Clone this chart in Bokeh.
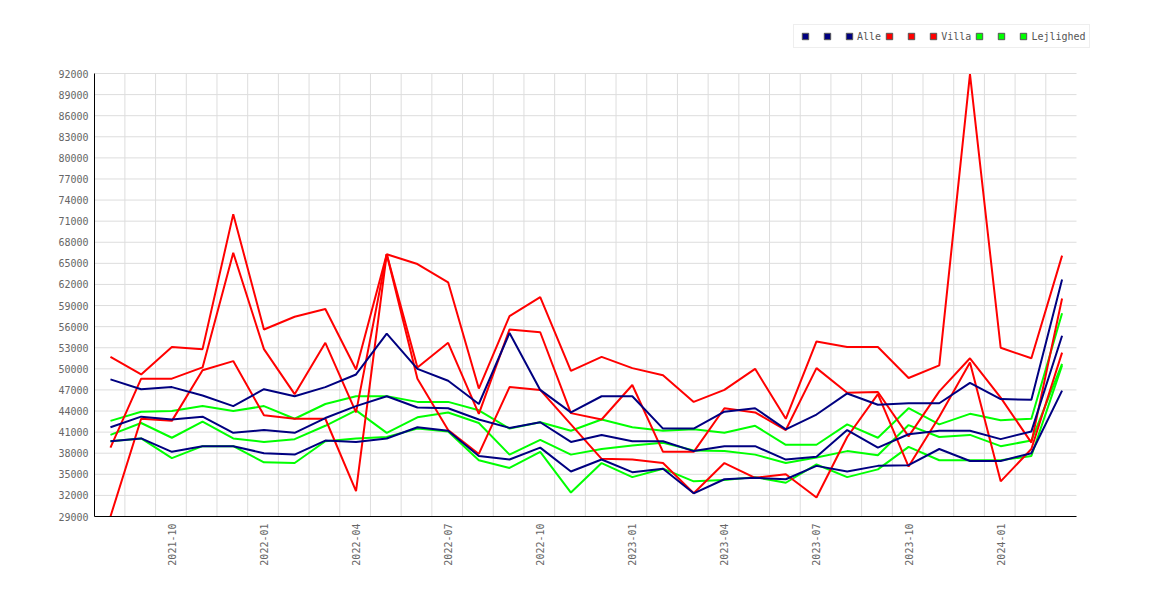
import math
from bokeh.plotting import figure
from bokeh.models import FixedTicker, Legend, LegendItem, PrintfTickFormatter, Range1d
from bokeh.embed import file_html
from bokeh.resources import INLINE

months = ["2021-08", "2021-09", "2021-10", "2021-11", "2021-12", "2022-01", "2022-02", "2022-03",
          "2022-04", "2022-05", "2022-06", "2022-07", "2022-08", "2022-09", "2022-10", "2022-11",
          "2022-12", "2023-01", "2023-02", "2023-03", "2023-04", "2023-05", "2023-06", "2023-07",
          "2023-08", "2023-09", "2023-10", "2023-11", "2023-12", "2024-01", "2024-02", "2024-03"]

alle_hi = [48500, 47100, 47400, 46200, 44700, 47100, 46100, 47400, 49200, 55000, 50000, 48300,
           45000, 55100, 47000, 43800, 46100, 46100, 41500, 41500, 43900, 44400, 41400, 43500,
           46500, 44900, 45100, 45100, 48000, 45700, 45600, 62700]
alle_mid = [41700, 43200, 42800, 43200, 40900, 41300, 40900, 43000, 44700, 46100, 44500, 44400,
            42800, 41600, 42400, 39600, 40600, 39700, 39700, 38300, 39000, 39000, 37100, 37500,
            41300, 38800, 40700, 41200, 41200, 40000, 41100, 54700]
alle_lo = [39700, 40100, 38200, 39000, 39000, 38000, 37800, 39800, 39600, 40100, 41700, 41200,
           37600, 37100, 38800, 35400, 37100, 35300, 35800, 32300, 34300, 34500, 34300, 36200,
           35400, 36200, 36300, 38600, 36900, 36900, 38000, 46900]

villa_hi = [51700, 49200, 53100, 52800, 72000, 55600, 57400, 58500, 49900, 66300, 64900, 62300,
            47200, 57500, 60200, 49700, 51700, 50100, 49100, 45300, 47000, 50000, 42900, 53900,
            53100, 53100, 48700, 50500, 91900, 53000, 51500, 66100]
villa_mid = [38800, 48600, 48600, 50200, 66500, 52800, 46400, 53700, 43800, 66300, 50200, 53700,
             43600, 55600, 55200, 43700, 42800, 47700, 38200, 38200, 44400, 43800, 41300, 50100,
             46600, 46700, 40400, 46800, 51500, 45900, 39500, 60000]
villa_lo = [29000, 42900, 42600, 49800, 51100, 43400, 42900, 42900, 32600, 66300, 48600, 41300,
            37900, 47400, 47000, 42100, 37200, 37100, 36600, 32300, 36600, 34500, 35000, 31700,
            40300, 46400, 36100, 43200, 50900, 34000, 38600, 52300]

lejl_hi = [42600, 43900, 44000, 44700, 44000, 44700, 42900, 45000, 46100, 46100, 45300, 45300,
           44100, 41500, 42400, 41200, 42800, 41700, 41200, 41400, 40900, 41900, 39200, 39200,
           42100, 40200, 44400, 42100, 43600, 42700, 42900, 57900]
lejl_mid = [40600, 42300, 40200, 42500, 40100, 39600, 40000, 41900, 44100, 40900, 43100, 43800,
            42300, 37800, 39900, 37800, 38600, 39100, 39500, 38400, 38300, 37800, 36600, 37400,
            38300, 37700, 42000, 40300, 40600, 39000, 39800, 50700]
lejl_lo = [39700, 40100, 37300, 39000, 39000, 36700, 36600, 39700, 40100, 40300, 41500, 41100,
           37000, 35900, 38200, 32400, 36600, 34600, 35800, 34000, 34200, 34600, 33800, 36400,
           34600, 35700, 38900, 37000, 37000, 37000, 37600, 50500]

series_names = ["Alle", "Villa", "Lejlighed"]
series_colors = ["#000080", "#ff0000", "#00ff00"]
label_idx = [2, 5, 8, 11, 14, 17, 20, 23, 26, 29]
y_ticks = list(range(29000, 92001, 3000))
y_min, y_max = 29000, 92000
x_lo, x_hi = -0.52, 31.47

x = list(range(len(months)))

# layout in page pixels
left_px, axis_right_px, frame_right_px = 94, 1076, 1092
frame_top_px, axis_top_px, frame_bottom_px = 20, 73, 516
W, H = 1160, 593
y_per_px = (y_max - y_min) / (frame_bottom_px - axis_top_px)
y_top = y_max + y_per_px * (axis_top_px - frame_top_px)
x_per_px = (x_hi - x_lo) / (axis_right_px - left_px)
x_end = x_hi + x_per_px * (frame_right_px - axis_right_px)

p = figure(width=W, height=H, output_backend="svg", toolbar_location=None,
           x_range=Range1d(x_lo, x_end), y_range=Range1d(y_min, y_top),
           min_border_left=left_px, min_border_right=W - frame_right_px,
           min_border_top=frame_top_px, min_border_bottom=H - frame_bottom_px)
p.outline_line_color = None
p.background_fill_color = "white"

font = "DejaVu Sans Mono"
for ax in (p.xaxis, p.yaxis):
    ax.axis_line_color = "black"
    ax.axis_line_width = 1
    ax.major_tick_line_color = None
    ax.minor_tick_line_color = None
    ax.major_tick_out = 0
    ax.major_tick_in = 0
    ax.minor_tick_out = 0
    ax.major_label_text_font = font
    ax.major_label_text_font_size = "10px"
    ax.major_label_text_color = "#666666"

p.xaxis.ticker = FixedTicker(ticks=label_idx)
p.xaxis.major_label_overrides = {i: months[i] for i in label_idx}
p.xaxis.major_label_orientation = math.pi / 2
p.xaxis.major_label_standoff = 7
p.xaxis.bounds = (x_lo, x_hi)
p.yaxis.ticker = FixedTicker(ticks=y_ticks)
p.yaxis.formatter = PrintfTickFormatter(format="%d")
p.yaxis.major_label_standoff = 6
p.yaxis.bounds = (y_min, y_max)

p.xgrid.visible = False
p.ygrid.visible = False

# grid: vertical lines between the monthly points, horizontal lines at the value ticks
gx = [i + 0.47 for i in range(len(months) - 1)]
p.segment(x0=gx, y0=[y_min] * len(gx), x1=gx, y1=[y_max] * len(gx),
          line_color="#dddddd", line_width=1)
p.segment(x0=[x_lo] * len(y_ticks), y0=y_ticks, x1=[x_hi] * len(y_ticks), y1=y_ticks,
          line_color="#dddddd", line_width=1)

groups = [
    (lejl_lo, lejl_mid, lejl_hi, series_colors[2]),
    (villa_lo, villa_mid, villa_hi, series_colors[1]),
    (alle_lo, alle_mid, alle_hi, series_colors[0]),
]
legend_refs = {}
for (lo, mid, hi, c), name in zip(groups, ["Lejlighed", "Villa", "Alle"]):
    refs = []
    for ys in (lo, mid, hi):
        # zero-size square markers: invisible on the plot, used for the legend swatches
        refs.append(p.scatter(x, ys, marker="square", size=0, fill_color=c,
                              line_color="#555555", line_width=1))
    legend_refs[name] = refs
for lo, mid, hi, c in groups:
    for ys in (lo, mid, hi):
        p.line(x, ys, line_color=c, line_width=2)

items = []
for name in series_names:
    for k, r in enumerate(legend_refs[name]):
        lab = name if k == 2 else "\u00a0"
        items.append(LegendItem(label=lab, renderers=[r]))

legend = Legend(items=items, orientation="horizontal", location=(793 - left_px, frame_bottom_px - 48),
                glyph_width=16, glyph_height=16, label_standoff=0, spacing=0, padding=3,
                label_width=0, label_height=14, border_line_color="#dddddd", border_line_width=1,
                label_text_font=font, label_text_font_size="10px", label_text_color="#555555",
                background_fill_color="white", background_fill_alpha=1, margin=0)
p.add_layout(legend)

open("out.html", "w").write(file_html(p, INLINE))
